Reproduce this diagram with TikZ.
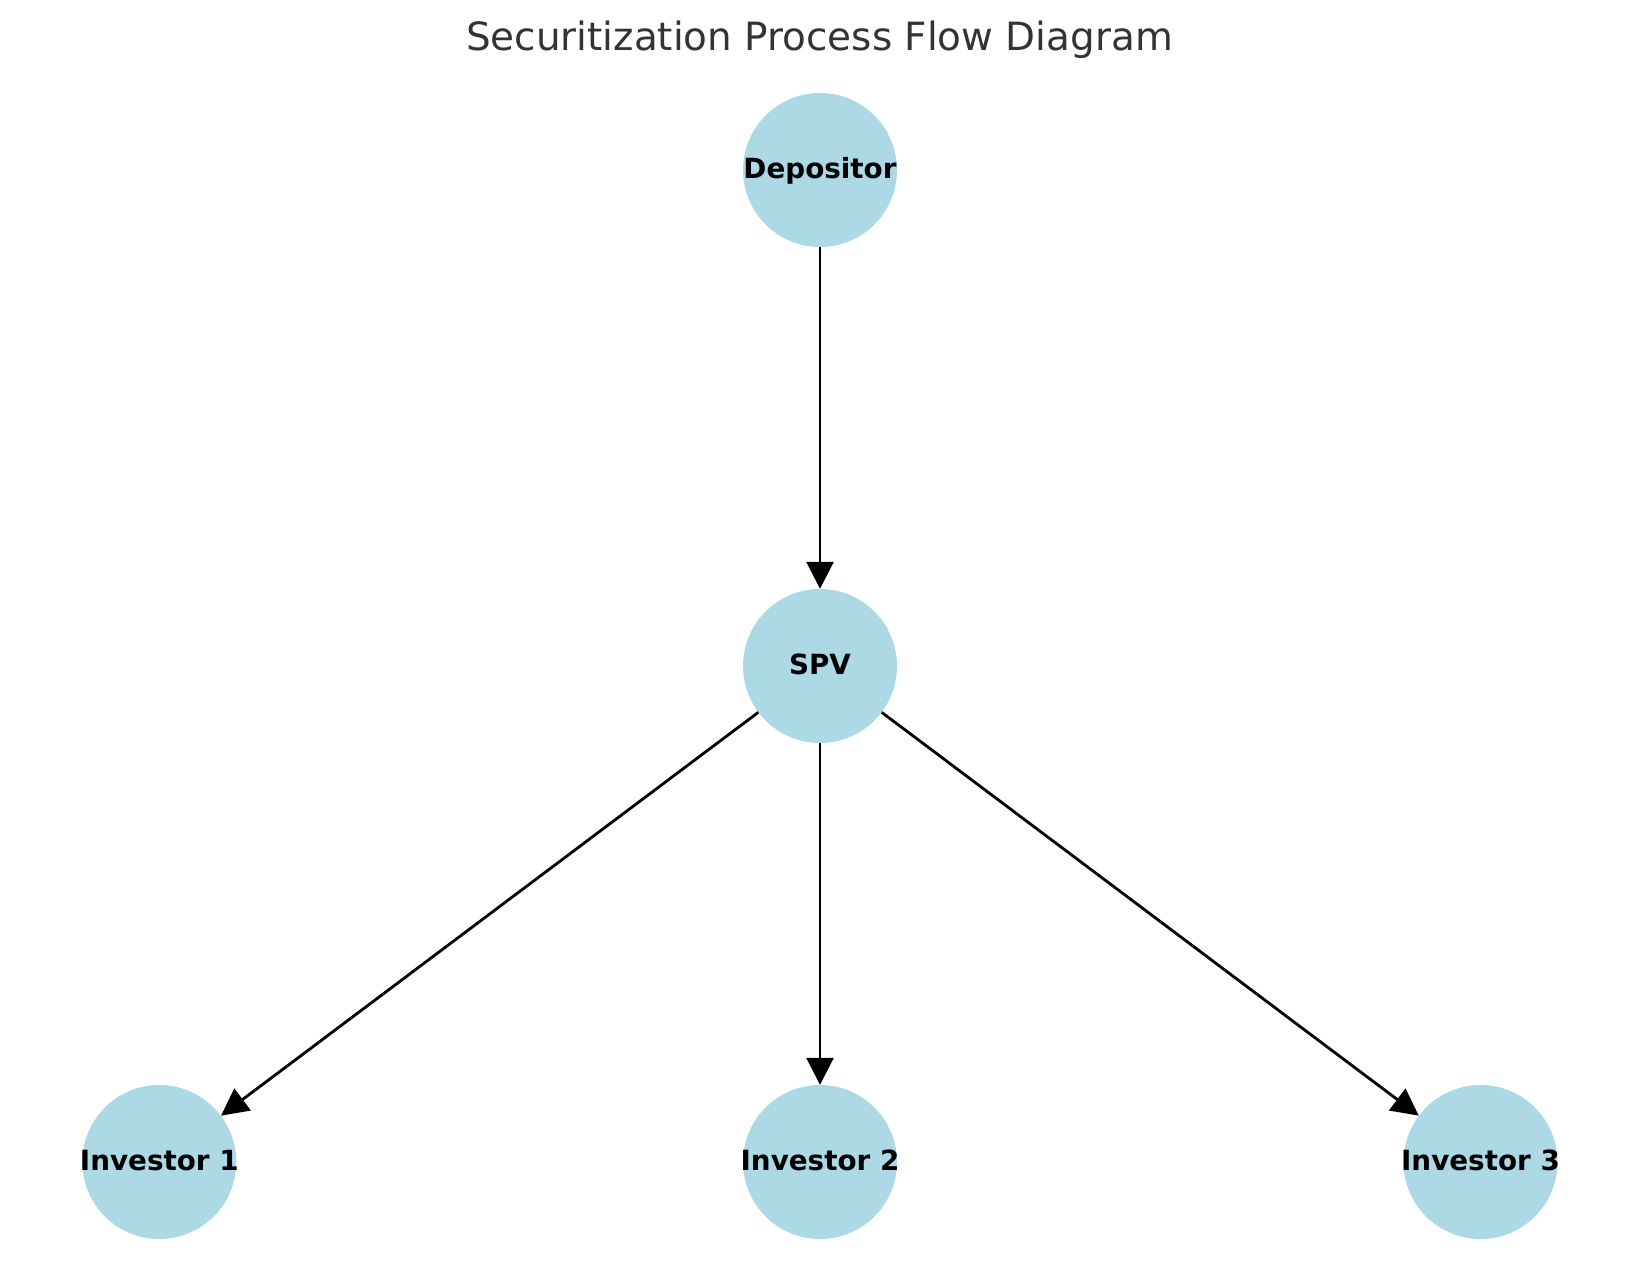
\documentclass[tikz,border=0pt]{standalone}
\usepackage{fontspec}
\setmainfont{DejaVu Sans}
\usetikzlibrary{arrows.meta}
\definecolor{nodeblue}{HTML}{ADD8E6}
\definecolor{titlegray}{HTML}{333333}
\newcommand{\plabel}[1]{\makebox[0pt]{\raisebox{-8pt}[0pt][0pt]{#1}}}
\tikzset{
  party/.style={circle, fill=nodeblue, minimum size=154pt, inner sep=0pt,
    font=\fontsize{27.8pt}{30pt}\selectfont\bfseries, text=black},
  flow/.style={line width=2.8pt, draw=black,
    -{Triangle[length=27pt,width=27pt]}, shorten >=0pt}
}
\begin{document}
\begin{tikzpicture}[x=1pt,y=1pt]
\useasboundingbox (0,0) rectangle (1639,-1286);
\node[font=\fontsize{38.9pt}{42pt}\selectfont, text=titlegray, anchor=base] (title) at (819.5,-50) {Securitization Process Flow Diagram};
\node[party] (dep) at (820,-170) {\plabel{Depositor}};
\node[party] (spv) at (820,-666) {\plabel{SPV}};
\node[party] (i1) at (159.3,-1162) {\plabel{Investor 1}};
\node[party] (i2) at (820,-1162) {\plabel{Investor 2}};
\node[party] (i3) at (1480.5,-1162) {\plabel{Investor 3}};
\draw[flow] (dep) -- (spv);
\draw[flow] (spv) -- (i1);
\draw[flow] (spv) -- (i2);
\draw[flow] (spv) -- (i3);
\end{tikzpicture}
\end{document}
